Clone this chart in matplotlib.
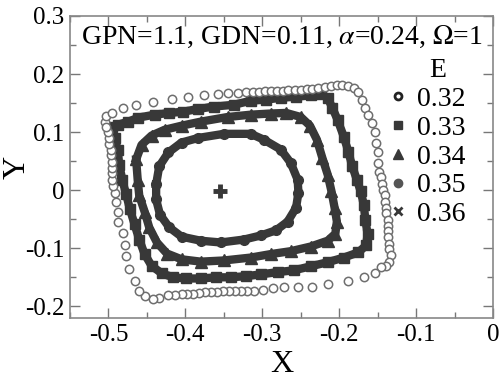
import numpy as np
import matplotlib.pyplot as plt
from matplotlib.lines import Line2D
from matplotlib.ticker import MultipleLocator, FixedLocator, FixedFormatter

plt.rcParams['font.family'] = ['Liberation Serif', 'DejaVu Serif']
plt.rcParams['mathtext.fontset'] = 'stix'
plt.rcParams['axes.unicode_minus'] = False

# orbits in the (X, Y) plane for each energy E
e032_x = [-0.505, -0.503, -0.496, -0.481, -0.464, -0.442, -0.418, -0.396, -0.376, -0.358,
          -0.345, -0.332, -0.321, -0.312, -0.304, -0.297, -0.289, -0.281, -0.273, -0.266,
          -0.258, -0.250, -0.242, -0.235, -0.227, -0.219, -0.211, -0.203, -0.196, -0.188,
          -0.181, -0.176, -0.170, -0.166, -0.162, -0.157, -0.154, -0.152, -0.150, -0.149,
          -0.148, -0.146, -0.144, -0.143, -0.141, -0.140, -0.139, -0.139, -0.137, -0.137,
          -0.136, -0.136, -0.135, -0.135, -0.133, -0.135, -0.139, -0.145, -0.153, -0.168,
          -0.189, -0.214, -0.235, -0.254, -0.272, -0.286, -0.299, -0.311, -0.320, -0.328,
          -0.336, -0.343, -0.351, -0.359, -0.367, -0.374, -0.382, -0.390, -0.398, -0.405,
          -0.413, -0.422, -0.434, -0.442, -0.452, -0.460, -0.466, -0.473, -0.477, -0.479,
          -0.481, -0.487, -0.488, -0.490, -0.492, -0.494, -0.495, -0.495, -0.496, -0.496,
          -0.497, -0.497, -0.499, -0.499, -0.500, -0.503]
e032_y = [0.118, 0.127, 0.133, 0.142, 0.147, 0.152, 0.157, 0.161, 0.163, 0.166,
          0.168, 0.168, 0.169, 0.169, 0.169, 0.170, 0.171, 0.171, 0.171, 0.172,
          0.173, 0.173, 0.174, 0.175, 0.176, 0.178, 0.180, 0.181, 0.181, 0.180,
          0.176, 0.169, 0.156, 0.142, 0.130, 0.116, 0.101, 0.082, 0.065, 0.047,
          0.032, 0.022, 0.011, 0.001, -0.009, -0.020, -0.030, -0.040, -0.051, -0.061,
          -0.071, -0.081, -0.092, -0.102, -0.112, -0.123, -0.130, -0.133, -0.142, -0.149,
          -0.157, -0.161, -0.166, -0.166, -0.167, -0.169, -0.171, -0.173, -0.173, -0.173,
          -0.174, -0.174, -0.174, -0.175, -0.176, -0.176, -0.177, -0.178, -0.179, -0.179,
          -0.180, -0.181, -0.185, -0.188, -0.183, -0.174, -0.157, -0.136, -0.114, -0.094,
          -0.073, -0.054, -0.037, -0.021, -0.004, 0.008, 0.018, 0.029, 0.039, 0.049,
          0.060, 0.070, 0.080, 0.090, 0.101, 0.109]

e033_x = [-0.496, -0.487, -0.474, -0.461, -0.440, -0.421, -0.403, -0.383, -0.363, -0.337,
          -0.315, -0.295, -0.276, -0.256, -0.237, -0.224, -0.215, -0.209, -0.202, -0.194,
          -0.188, -0.183, -0.177, -0.172, -0.168, -0.166, -0.163, -0.165, -0.175, -0.194,
          -0.215, -0.237, -0.259, -0.280, -0.302, -0.321, -0.341, -0.360, -0.380, -0.399,
          -0.416, -0.431, -0.444, -0.453, -0.460, -0.466, -0.472, -0.477, -0.482, -0.486,
          -0.488, -0.492]
e033_y = [0.108, 0.113, 0.118, 0.125, 0.130, 0.133, 0.135, 0.140, 0.144, 0.147,
          0.154, 0.156, 0.159, 0.161, 0.163, 0.166, 0.159, 0.142, 0.121, 0.092,
          0.066, 0.041, 0.018, -0.002, -0.025, -0.051, -0.076, -0.095, -0.107, -0.116,
          -0.124, -0.131, -0.138, -0.141, -0.145, -0.148, -0.150, -0.150, -0.152, -0.152,
          -0.150, -0.143, -0.130, -0.110, -0.085, -0.059, -0.033, -0.007, 0.018, 0.044,
          0.070, 0.090]

e034_x = [-0.464, -0.457, -0.444, -0.427, -0.405, -0.380, -0.345, -0.315, -0.289, -0.269,
          -0.250, -0.238, -0.229, -0.222, -0.215, -0.210, -0.206, -0.203, -0.205, -0.215,
          -0.237, -0.263, -0.289, -0.315, -0.350, -0.380, -0.405, -0.424, -0.437, -0.447,
          -0.453, -0.460, -0.462]
e034_y = [0.053, 0.078, 0.094, 0.104, 0.111, 0.118, 0.126, 0.130, 0.132, 0.133,
          0.126, 0.111, 0.087, 0.056, 0.027, -0.002, -0.030, -0.054, -0.075, -0.087,
          -0.097, -0.105, -0.110, -0.116, -0.121, -0.123, -0.119, -0.109, -0.090, -0.064,
          -0.037, -0.009, 0.018]

e035_x = [-0.438, -0.438, -0.433, -0.421, -0.405, -0.380, -0.354, -0.324, -0.302, -0.282,
          -0.267, -0.256, -0.253, -0.254, -0.263, -0.276, -0.298, -0.315, -0.350, -0.383,
          -0.405, -0.422, -0.434]
e035_y = [0.010, -0.016, -0.042, -0.064, -0.080, -0.087, -0.090, -0.085, -0.078, -0.069,
          -0.054, -0.030, -0.004, 0.018, 0.047, 0.070, 0.087, 0.097, 0.097, 0.090,
          0.082, 0.065, 0.041]

e036_x = [-0.355]
e036_y = [-0.002]

energies = ['0.32', '0.33', '0.34', '0.35', '0.36']
xtick_vals = [-0.5, -0.4, -0.3, -0.2, -0.1, 0.0]
xtick_labels = ['-0.5', '-0.4', '-0.3', '-0.2', '-0.1', '0']
ytick_vals = [-0.2, -0.1, 0.0, 0.1, 0.2, 0.3]
ytick_labels = ['-0.2', '-0.1', '0', '0.1', '0.2', '0.3']

dark = '#383838'


def closed(a):
    return np.append(a, a[0])


fig = plt.figure(figsize=(5, 3.79), dpi=100)
ax = fig.add_axes([0.14, 0.161, 0.846, 0.797])

# dense orbits: thick path plus markers
for xs, ys, m, ms in [(e033_x, e033_y, 's', 7),
                      (e034_x, e034_y, '^', 8),
                      (e035_x, e035_y, 'o', 7)]:
    ax.plot(closed(xs), closed(ys), '-', color=dark, lw=6, zorder=2)
    ax.plot(xs, ys, m, color=dark, ms=ms, mec=dark, zorder=3)

# outer orbit with open circles
ax.plot(e032_x, e032_y, 'o', ms=6, mfc='white', mec='#6e6e6e', mew=1.1, zorder=4)
# fixed point
ax.plot(e036_x, e036_y, '+', color=dark, ms=10, mew=3.5, zorder=5)

ax.set_xlim(-0.55, 0.0)
ax.set_ylim(-0.22, 0.3)
ax.xaxis.set_major_locator(FixedLocator(xtick_vals))
ax.xaxis.set_major_formatter(FixedFormatter(xtick_labels))
ax.yaxis.set_major_locator(FixedLocator(ytick_vals))
ax.yaxis.set_major_formatter(FixedFormatter(ytick_labels))
ax.xaxis.set_minor_locator(MultipleLocator(0.05))
ax.yaxis.set_minor_locator(MultipleLocator(0.05))
ax.tick_params(which='both', direction='in', top=True, right=True,
               color='#777777', labelsize=18, pad=4)
ax.tick_params(which='major', length=7, width=1)
ax.tick_params(which='minor', length=4, width=1)
for s in ax.spines.values():
    s.set_color('#888888')
    s.set_linewidth(1.2)

ax.set_xlabel('X', fontsize=23, labelpad=3)
ax.set_ylabel('Y', fontsize=23, va='center')
ax.yaxis.set_label_coords(-0.125, 0.5)

ax.text(0.5, 0.975, r'GPN=1.1, GDN=0.11, $\alpha$=0.24, $\Omega$=1',
        transform=ax.transAxes, ha='center', va='top', fontsize=20)

handles = [
    Line2D([], [], ls='none', marker='o', ms=5, mfc='white', mec='#222222', mew=2),
    Line2D([], [], ls='none', marker='s', ms=5.5, color=dark),
    Line2D([], [], ls='none', marker='^', ms=6.5, color=dark),
    Line2D([], [], ls='none', marker='o', ms=6, color='#555555'),
    Line2D([], [], ls='none', marker='x', ms=6, mew=2, color=dark),
]
leg = ax.legend(handles, energies, title='E', loc='upper right',
                bbox_to_anchor=(0.975, 0.915), frameon=False, fontsize=20,
                title_fontsize=20, handlelength=0.6, handletextpad=0.4,
                labelspacing=0.12, borderpad=0.1)
leg.get_title().set_position((10, 0))

fig.savefig('out.png', dpi=100)
